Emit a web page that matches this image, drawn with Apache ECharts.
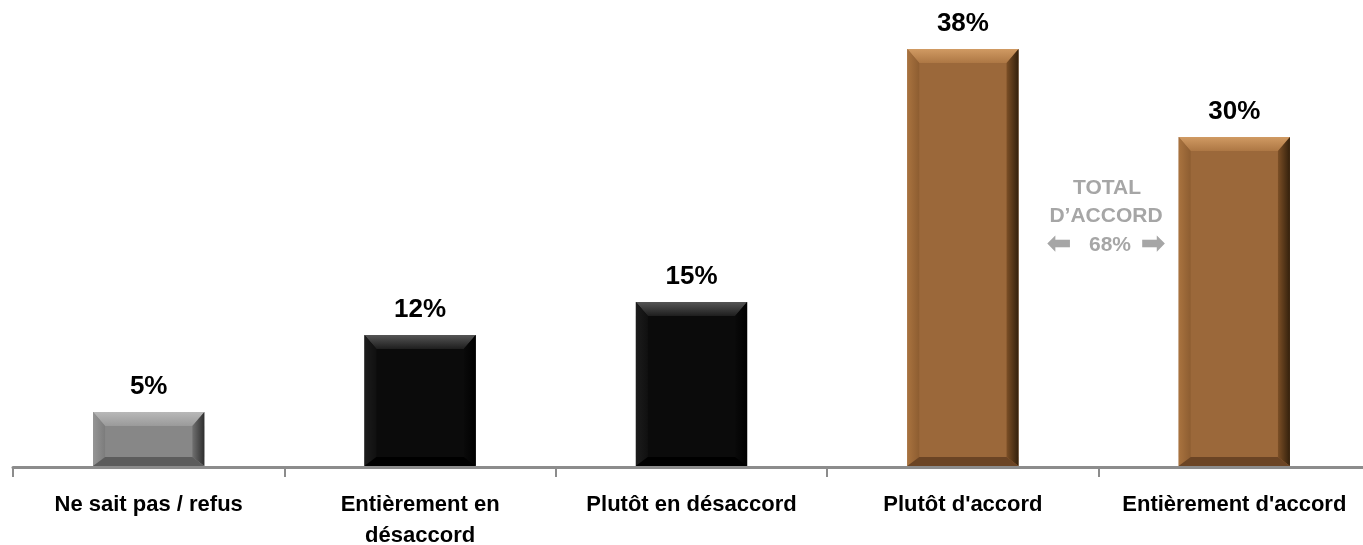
<!DOCTYPE html>
<html>
<head>
<meta charset="utf-8">
<script src="https://cdn.jsdelivr.net/npm/echarts@6/dist/echarts.min.js"></script>
<style>
html,body{margin:0;padding:0;background:#fff;}
#chart{width:1363px;height:545px;}
</style>
</head>
<body>
<div id="chart"></div>
<script>
// ---- data ----
const categories = ['Ne sait pas / refus', 'Entièrement en\ndésaccord', 'Plutôt en désaccord', "Plutôt d'accord", "Entièrement d'accord"];
const values = [5, 12, 15, 38, 30];
const valueLabels = ['5%', '12%', '15%', '38%', '30%'];
const barGroups = ['gray', 'black', 'black', 'brown', 'brown'];
const annotationLines = ['TOTAL', 'D\u2019ACCORD', '68%'];

// ---- styles ----
const palettes = {
  gray:  { main: '#878787', top: ['#b8b8b8', '#9a9a9a'], left: ['#959595', '#7c7c7c'], right: ['#707070', '#2e2e2e'], bottom: '#5c5c5c' },
  black: { main: '#0b0b0b', top: ['#555555', '#1e1e1e'], left: ['#1c1c1c', '#101010'], right: ['#0a0a0a', '#000000'], bottom: '#000000' },
  brown: { main: '#9b683a', top: ['#d09a63', '#ad7744'], left: ['#a9733f', '#8d5d31'], right: ['#7c4f26', '#33200c'], bottom: '#6b4424' }
};
function lin(x1, y1, x2, y2, c) {
  return new echarts.graphic.LinearGradient(x1, y1, x2, y2, [{offset: 0, color: c[0]}, {offset: 1, color: c[1]}]);
}
const annoFont = 'bold 21px "Liberation Sans"';
const annoColor = '#a6a6a6';

const chart = echarts.init(document.getElementById('chart'), null, {renderer: 'canvas'});
chart.setOption({
  backgroundColor: '#ffffff',
  animation: false,
  grid: { left: 13, width: 1357, top: 27, height: 440, containLabel: false, outerBoundsMode: 'none' },
  xAxis: {
    type: 'category',
    data: categories,
    axisLine: { show: true, lineStyle: { color: '#8c8c8c', width: 3 } },
    axisTick: { show: true, length: 10, interval: 0, lineStyle: { color: '#8c8c8c', width: 2 } },
    axisLabel: { interval: 0, margin: 22, color: '#000', fontSize: 22, fontWeight: 'bold', fontFamily: 'Liberation Sans', lineHeight: 31 }
  },
  yAxis: { type: 'value', min: 0, max: 40, show: false, splitLine: { show: false } },
  series: [
    {
      type: 'custom',
      data: values.map((v, i) => [i, v]),
      renderItem: function (params, api) {
        const idx = api.value(0);
        const top = api.coord([idx, api.value(1)]);
        const bot = api.coord([idx, 0]);
        const w = api.size([1, 0])[0] * 0.41;
        const x0 = top[0] - w / 2, x1 = top[0] + w / 2;
        const y0 = top[1], y1 = bot[1] - 1;
        const p = palettes[barGroups[idx]];
        const tb = 14, sb = 12, bb = 9;
        return {
          type: 'group',
          children: [
            { type: 'rect', shape: { x: x0, y: y0, width: w, height: y1 - y0 }, style: { fill: p.main } },
            { type: 'polygon', shape: { points: [[x0, y0], [x1, y0], [x1 - sb, y0 + tb], [x0 + sb, y0 + tb]] }, style: { fill: lin(0, 0, 0, 1, p.top) } },
            { type: 'polygon', shape: { points: [[x0, y0], [x0 + sb, y0 + tb], [x0 + sb, y1 - bb], [x0, y1]] }, style: { fill: lin(0, 0, 1, 0, p.left) } },
            { type: 'polygon', shape: { points: [[x1, y0], [x1, y1], [x1 - sb, y1 - bb], [x1 - sb, y0 + tb]] }, style: { fill: lin(0, 0, 1, 0, p.right) } },
            { type: 'polygon', shape: { points: [[x0, y1], [x0 + sb, y1 - bb], [x1 - sb, y1 - bb], [x1, y1]] }, style: { fill: p.bottom } }
          ]
        };
      },
      z: 2
    },
    {
      type: 'bar',
      data: values,
      barWidth: '41%',
      itemStyle: { color: 'rgba(0,0,0,0)' },
      label: {
        show: true, position: 'top', distance: 12,
        formatter: function (p) { return valueLabels[p.dataIndex]; },
        color: '#000', fontSize: 26, fontWeight: 'bold', fontFamily: 'Liberation Sans'
      },
      z: 3
    }
  ],
  graphic: [
    { type: 'text', x: 1107, y: 188, style: { text: annotationLines[0], fill: annoColor, font: annoFont, textAlign: 'center', textVerticalAlign: 'middle' } },
    { type: 'text', x: 1106, y: 216, style: { text: annotationLines[1], fill: annoColor, font: annoFont, textAlign: 'center', textVerticalAlign: 'middle' } },
    { type: 'text', x: 1110, y: 245, style: { text: annotationLines[2], fill: annoColor, font: annoFont, textAlign: 'center', textVerticalAlign: 'middle' } },
    { type: 'text', x: 1059, y: 245, style: { text: '\u2B05', fill: annoColor, font: 'bold 30px "DejaVu Sans"', textAlign: 'center', textVerticalAlign: 'middle' } },
    { type: 'text', x: 1153, y: 245, style: { text: '\u27A1', fill: annoColor, font: 'bold 30px "DejaVu Sans"', textAlign: 'center', textVerticalAlign: 'middle' } }
  ]
});
</script>
</body>
</html>
